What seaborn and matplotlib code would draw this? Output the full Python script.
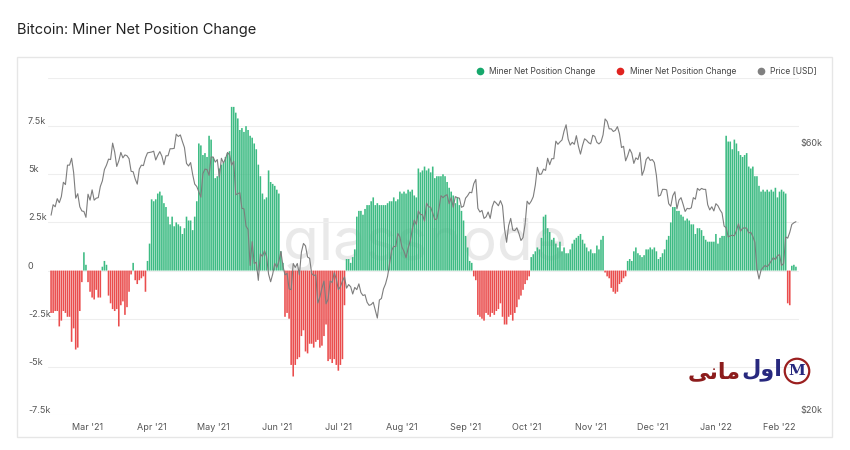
import numpy as np
import pandas as pd
import seaborn as sns
import matplotlib
matplotlib.use('Agg')
import matplotlib.pyplot as plt
from matplotlib.lines import Line2D
from matplotlib.patches import Rectangle
from matplotlib.ticker import NullLocator

# daily miner net position change, thousands of BTC (Feb 11 2021 .. Feb 9 2022)
change_feb21 = [-2.2, -2.2, -2.1, -2.1, -2.9, -2.6, -2.1, -2.2, -2.4, -2.4, -3.7, -3.0, -4.1, -4.0, -2.1, -0.6, 0.95, 0.3]
change_mar21 = [-0.6, -1.1, -1.4, -1.5, -1.0, -1.4, -1.4, 0.2, 0.5, 0.3, -1.3, -1.7, -2.0, -2.1, -2.0, -2.9,
                -1.8, -1.6, -2.3, -1.9, -1.1, -0.2, 0.4, -0.5, -0.7, -0.5, -0.4, -0.3, -1.1, 0.5, 1.4]
change_apr21 = [3.7, 3.6, 3.7, 4.0, 4.1, 3.9, 3.5, 3.3, 2.8, 2.4, 2.8, 2.3, 2.5, 2.4, 2.3, 1.9, 2.2, 2.8, 2.6, 2.6,
                2.1, 2.8, 3.6, 6.6, 6.5, 6.0, 6.1, 5.9, 7.0, 6.8]
change_may21 = [5.9, 4.8, 4.9, 5.3, 5.5, 5.6, 5.9, 6.1, 6.2, 8.5, 8.5, 8.2, 7.9, 7.3, 7.4, 7.2, 7.5, 7.3, 7.0, 6.9,
                6.6, 6.3, 5.5, 4.9, 4.0, 3.7, 3.8, 5.2, 4.6, 4.5, 4.4]
change_jun21 = [4.2, 4.0, 1.0, 0.4, -2.4, -2.2, -2.5, -4.9, -5.5, -4.9, -4.6, -4.5, -3.4, -3.1, -4.2, -4.3, -3.8,
                -3.8, -4.0, -3.7, -3.6, -4.0, -3.9, -3.4, -2.8, -4.7, -4.6, -4.8, -4.6, -4.9]
change_jul21 = [-5.2, -4.9, -4.6, -1.8, 0.6, 0.6, 0.4, 0.7, 1.1, 2.8, 3.1, 3.1, 2.9, 3.2, 3.4, 3.4, 3.6, 3.8, 3.4,
                3.5, 3.4, 3.4, 3.4, 3.4, 3.5, 3.6, 3.6, 3.8, 3.6, 3.7, 4.1]
change_aug21 = [4.0, 4.1, 4.0, 4.2, 4.1, 4.2, 3.9, 3.8, 5.3, 5.1, 5.2, 5.4, 5.2, 5.3, 5.1, 5.4, 4.8, 4.9, 4.9, 4.9,
                5.0, 4.9, 4.6, 4.3, 4.1, 3.9, 3.5, 3.8, 3.4, 3.1, 2.6]
change_sep21 = [1.8, 1.2, 0.5, 0.4, -0.3, -0.5, -2.3, -2.4, -2.5, -2.6, -2.2, -2.3, -2.4, -2.2, -2.3, -2.1, -2.0,
                -1.7, -2.4, -2.8, -2.8, -2.4, -2.3, -2.6, -2.2, -1.9, -1.5, -1.3, -1.0, -0.7]
change_oct21 = [-0.5, -0.3, 0.7, 0.85, 1.0, 1.2, 1.1, 1.7, 2.8, 2.9, 2.2, 2.0, 1.6, 1.7, 1.4, 1.2, 1.5, 1.0, 1.2,
                0.9, 0.9, 1.1, 1.4, 1.6, 1.7, 1.8, 1.9, 1.6, 1.4, 1.2, 1.0]
change_nov21 = [1.1, 0.9, 0.9, 1.3, 1.1, 1.6, 1.8, -0.1, -0.3, -0.4, -0.9, -1.1, -1.2, -1.1, -0.7, -0.6, -0.4,
                -0.3, 0.5, 0.6, 0.5, 1.0, 1.2, 0.9, 0.8, 0.7, 0.8, 1.1, 1.1, 1.2]
change_dec21 = [1.1, 1.2, 1.0, 0.6, 0.7, 0.9, 1.1, 1.6, 1.8, 2.5, 3.3, 3.3, 3.1, 3.1, 2.9, 2.8, 2.6, 2.7, 2.6, 2.4,
                2.4, 1.9, 2.2, 2.2, 2.1, 1.8, 1.6, 1.5, 1.5, 1.5, 1.5]
change_jan22 = [1.9, 1.4, 1.7, 1.8, 1.8, 7.0, 6.7, 6.7, 6.3, 6.8, 6.6, 6.2, 6.0, 5.9, 6.0, 6.1, 5.4, 5.3, 5.4, 4.9,
                4.9, 4.4, 4.1, 4.2, 4.1, 4.2, 4.1, 4.2, 4.1, 4.3, 3.8]
change_feb22 = [4.1, 4.2, 4.1, 4.0, -1.7, -1.8, 0.25, 0.3, 0.2]

# BTC price, thousands of USD
price_feb21 = [45.5, 47.5, 47.1, 48.7, 47.9, 49.1, 52.1, 51.6, 55.9, 55.9, 57.5, 54.2, 48.8, 49.7, 47.1, 46.3, 46.2, 45.1]
price_mar21 = [49.6, 48.4, 50.5, 48.4, 48.8, 48.9, 51.2, 52.4, 54.9, 55.9, 57.3, 57.2, 61.2, 59.0, 55.6, 56.9, 58.9,
               57.6, 58.3, 58.1, 57.4, 54.5, 54.4, 52.8, 51.7, 55.0, 55.9, 55.8, 57.6, 58.8, 58.9]
price_apr21 = [59.0, 59.2, 57.1, 58.2, 59.1, 58.0, 56.0, 58.1, 58.1, 59.8, 59.8, 59.9, 63.5, 62.9, 63.3, 61.6, 60.1,
               56.3, 55.7, 56.5, 53.8, 51.7, 51.2, 50.1, 49.0, 54.0, 55.0, 54.9, 53.6, 57.8]
price_may21 = [57.8, 56.6, 57.2, 53.2, 57.5, 56.4, 57.4, 58.9, 58.3, 55.9, 56.8, 49.5, 49.7, 49.9, 46.8, 46.7, 43.5,
               42.9, 37.0, 40.8, 37.3, 37.5, 34.8, 38.8, 38.4, 39.3, 38.4, 35.7, 34.6, 35.7, 37.3]
price_jun21 = [36.7, 37.6, 39.2, 36.9, 35.6, 35.8, 33.6, 33.5, 37.3, 36.7, 37.3, 35.6, 39.1, 40.5, 40.1, 38.3, 38.1,
               35.8, 35.5, 35.6, 31.7, 32.5, 33.7, 34.7, 31.6, 32.2, 34.7, 34.5, 35.9, 35.0]
price_jul21 = [33.5, 33.9, 34.7, 35.3, 33.7, 34.2, 33.9, 32.9, 33.8, 33.5, 34.3, 33.1, 32.7, 32.8, 31.8, 31.4, 31.5,
               31.8, 30.8, 29.8, 32.1, 32.3, 33.6, 34.3, 35.4, 37.3, 39.4, 40.0, 40.0, 42.2, 41.6]
price_aug21 = [39.9, 39.2, 38.2, 39.7, 40.9, 42.8, 44.6, 43.8, 46.3, 45.6, 45.6, 44.4, 47.8, 47.1, 47.0, 45.9, 44.7,
               44.8, 46.7, 49.3, 48.9, 49.3, 49.5, 47.7, 48.9, 47.0, 49.1, 48.9, 48.8, 47.0, 47.2]
price_sep21 = [48.8, 49.3, 50.0, 49.9, 51.8, 52.7, 46.8, 46.1, 46.4, 44.9, 45.2, 46.1, 44.9, 47.1, 48.2, 47.8, 47.3,
               48.3, 47.3, 43.0, 40.7, 43.6, 44.9, 42.8, 42.7, 43.2, 42.2, 41.0, 41.5, 43.8]
price_oct21 = [48.2, 47.6, 48.2, 49.1, 51.5, 55.4, 53.8, 53.9, 55.0, 54.7, 57.5, 56.0, 57.4, 57.4, 61.7, 60.9, 61.5,
               62.0, 64.3, 66.0, 62.2, 60.7, 61.4, 60.9, 63.1, 60.4, 58.5, 60.6, 62.3, 61.9, 61.3]
price_nov21 = [61.0, 63.2, 62.9, 61.4, 61.0, 61.5, 63.3, 67.6, 66.9, 64.9, 64.9, 64.2, 64.5, 65.5, 63.6, 60.1, 60.4,
               56.9, 58.1, 59.7, 58.7, 56.3, 57.6, 57.2, 58.9, 53.6, 54.8, 57.2, 57.8, 57.0]
price_dec21 = [57.2, 56.5, 53.6, 49.2, 49.4, 50.6, 50.6, 50.5, 47.7, 47.2, 49.3, 50.1, 46.7, 48.4, 48.9, 47.6, 46.2,
               46.8, 46.7, 46.9, 48.9, 48.6, 50.8, 50.4, 50.8, 50.6, 50.6, 47.5, 46.5, 47.1, 46.3]
price_jan22 = [47.7, 47.3, 46.5, 45.9, 43.5, 43.2, 41.6, 41.8, 41.9, 41.8, 42.7, 43.9, 42.6, 43.1, 43.2, 43.1, 42.3,
               42.4, 41.7, 40.7, 36.5, 35.0, 36.3, 36.7, 37.0, 36.8, 37.2, 37.7, 38.2, 37.9, 38.5]
price_feb22 = [38.7, 37.0, 37.3, 41.6, 41.4, 42.4, 43.8, 44.1, 44.3]

change = (change_feb21 + change_mar21 + change_apr21 + change_may21 + change_jun21 + change_jul21 + change_aug21
          + change_sep21 + change_oct21 + change_nov21 + change_dec21 + change_jan22 + change_feb22)
price = (price_feb21 + price_mar21 + price_apr21 + price_may21 + price_jun21 + price_jul21 + price_aug21
         + price_sep21 + price_oct21 + price_nov21 + price_dec21 + price_jan22 + price_feb22)

dates = pd.date_range('2021-02-11', periods=len(change), freq='D')
df = pd.DataFrame({
    'day': np.arange(len(change)),
    'change': change,
    'price': np.array(price) * 1000,
})

GREEN = '#3dbb83'
RED = '#ea4d4d'
GRAY = '#7d7d7d'

sns.set_theme(style='white')
plt.rcParams['font.family'] = ['Inter', 'DejaVu Sans']

fig = plt.figure(figsize=(8.5, 4.5), dpi=100)
fig.patches.append(Rectangle((17 / 850, 13 / 450), 815 / 850, 380 / 450, transform=fig.transFigure,
                             fill=False, edgecolor='#e6e6e6', linewidth=1))
fig.text(17 / 850, 1 - 30 / 450, 'Bitcoin: Miner Net Position Change', fontsize=10.5, color='#222222', va='center')

ax = fig.add_axes([48 / 850, 35 / 450, 751 / 850, 337 / 450])
ax.text(0.5, 0.455, 'glassnode', transform=fig.transFigure, ha='center', va='center',
        fontsize=42, color='#e9e9e9', zorder=0)

bar_colors = np.where(df['change'] >= 0, GREEN, RED)
ax.bar(df['day'], df['change'], width=0.78, color=bar_colors, linewidth=0, snap=False, zorder=2)

ax.set_xlim(-1.5, len(change) + 0.5)
ax.set_ylim(-7.5, 10)
yt = [-7.5, -5, -2.5, 0, 2.5, 5, 7.5, 10]
ax.set_yticks(yt)
ax.set_yticklabels(['-7.5k', '-5k', '-2.5k', '0', '2.5k', '5k', '7.5k', ''])
ax.grid(axis='y', color='#eeeeee', linewidth=0.8)
ax.grid(axis='x', visible=False)
ax.set_axisbelow(True)
for s in ax.spines.values():
    s.set_visible(False)

month_idx = np.where(dates.day == 1)[0]
ax.set_xticks(month_idx)
ax.set_xticklabels([d.strftime("%b '%y") for d in dates[month_idx]])
ax.tick_params(axis='x', length=0, pad=6, labelsize=6.5, labelcolor='#555555')
ax.tick_params(axis='y', length=0, pad=14.5, labelsize=6.5, labelcolor='#555555')
for lab in ax.get_yticklabels():
    lab.set_ha('left')
    lab.set_va('bottom')

ax2 = ax.twinx()
sns.lineplot(data=df, x='day', y='price', color=GRAY, linewidth=0.8, ax=ax2, zorder=3)
ax2.set_yscale('log')
ax2.set_ylim(20000, 80000)
ax2.set_yticks([20000, 60000])
ax2.set_yticklabels(['$20k', '$60k'])
ax2.yaxis.set_minor_locator(NullLocator())
ax2.tick_params(axis='y', length=0, pad=1, labelsize=6.5, labelcolor='#555555')
for lab in ax2.get_yticklabels():
    lab.set_va('bottom')
ax2.grid(False)
ax2.set_ylabel('')
ax2.set_xlabel('')
for s in ax2.spines.values():
    s.set_visible(False)
ax2.set_xlim(-1.5, len(change) + 0.5)

handles = [
    Line2D([], [], marker='o', ls='', color='#16a86c', markersize=4.5),
    Line2D([], [], marker='o', ls='', color='#e0231f', markersize=4.5),
    Line2D([], [], marker='o', ls='', color='#808080', markersize=4.5),
]
fig.legend(handles, ['Miner Net Position Change', 'Miner Net Position Change', 'Price [USD]'],
           loc='center right', bbox_to_anchor=(820 / 850, 1 - 71 / 450), ncol=3, frameon=False,
           fontsize=6.1, labelcolor='#444444', handletextpad=0.1, columnspacing=1.9, borderaxespad=0)

# logo
fig.text(714 / 850, 1 - 372 / 450, 'ﯽﻧﺎﻣ', family=['DejaVu Sans'], fontsize=16, fontweight='bold',
         color='#8c1c1c', ha='center', va='center')
fig.text(762 / 850, 1 - 370 / 450, 'ﻝﻭﺍ', family=['DejaVu Sans'], fontsize=16, fontweight='bold',
         color='#27287e', ha='center', va='center')
fig.text(797 / 850, 1 - 371 / 450, 'M', family=['DejaVu Serif'], fontsize=11, fontweight='bold',
         color='#27287e', ha='center', va='center',
         bbox=dict(boxstyle='circle,pad=0.25', fc='none', ec='#9b1f1f', lw=1.6))

fig.savefig('out.png', dpi=100)
